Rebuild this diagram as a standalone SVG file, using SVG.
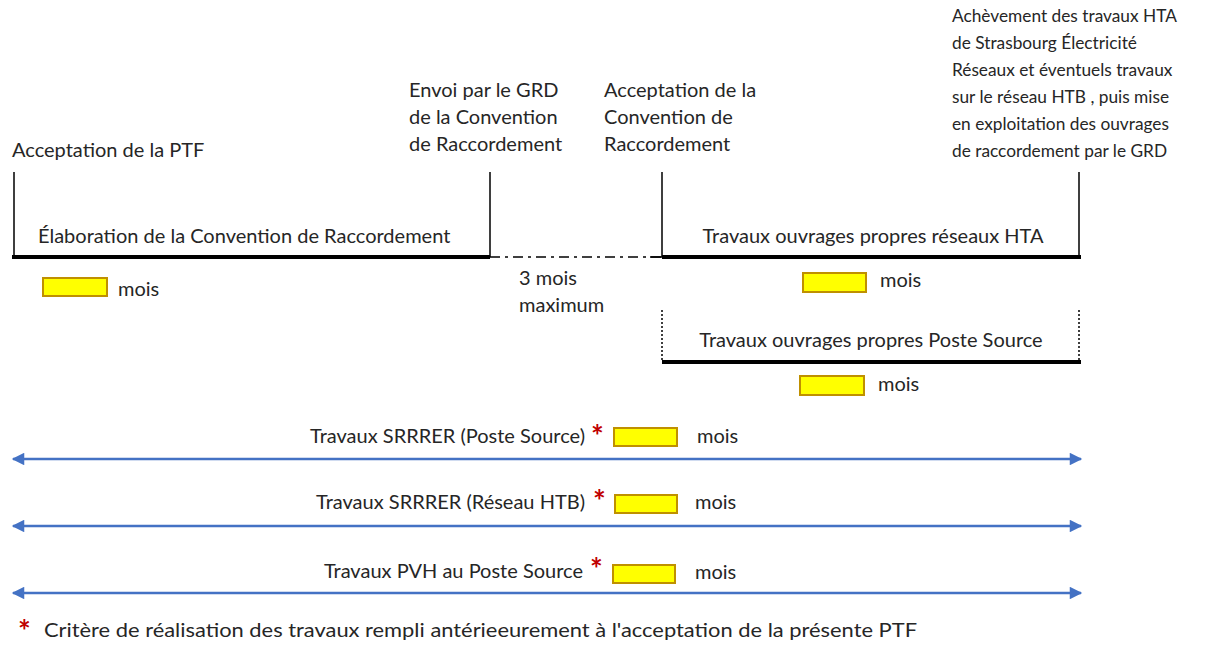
<svg xmlns="http://www.w3.org/2000/svg" width="1222" height="649" viewBox="0 0 1222 649">
<defs>
<marker id="ah" viewBox="0 0 10 10" refX="9" refY="5" markerWidth="5.5" markerHeight="5" orient="auto-start-reverse" markerUnits="strokeWidth">
<path d="M0,0 L10,5 L0,10 z" fill="#4472C4"/>
</marker>
<style>
text{font-family:Lato,"Open Sans",sans-serif;font-size:20px;fill:#262626}
.sm{font-size:17.3px}
.ast{fill:#C00000;font-size:30px;font-weight:bold}
.v{stroke:#000;stroke-width:1.5;fill:none}
.bar{stroke:#000;stroke-width:4;fill:none}
.dot{stroke:#000;stroke-width:1.5;stroke-dasharray:2 2;fill:none}
.dd{stroke:#000;stroke-width:1.5;stroke-dasharray:10 5 3 5;fill:none}
.box{fill:#FFFF00;stroke:#BF9000;stroke-width:2}
.arr{stroke:#4472C4;stroke-width:2.5;fill:none;marker-start:url(#ah);marker-end:url(#ah)}
</style>
</defs>
<g id="labels">
<text x="12" y="157">Acceptation de la PTF</text>
<text x="409" y="97">Envoi par le GRD</text>
<text x="409" y="124">de la Convention</text>
<text x="409" y="151">de Raccordement</text>
<text x="604" y="97">Acceptation de la</text>
<text x="604" y="124">Convention de</text>
<text x="604" y="151">Raccordement</text>
<text class="sm" x="952" y="22">Achèvement des travaux HTA</text>
<text class="sm" x="952" y="49">de Strasbourg Électricité</text>
<text class="sm" x="952" y="76">Réseaux et éventuels travaux</text>
<text class="sm" x="952" y="103">sur le réseau HTB , puis mise</text>
<text class="sm" x="952" y="130">en exploitation des ouvrages</text>
<text class="sm" x="952" y="157">de raccordement par le GRD</text>
</g>
<g id="phase-elaboration">
<path class="v" d="M14,172 V257 M490,172 V257"/>
<path class="bar" d="M12,257 H490"/>
<text x="38" y="243">Élaboration de la Convention de Raccordement</text>
<rect class="box" x="43" y="278" width="64" height="18"/>
<text x="118" y="296">mois</text>
</g>
<g id="phase-delai">
<path class="dd" d="M490,257 H662"/>
<text x="519" y="285">3 mois</text>
<text x="519" y="312">maximum</text>
</g>
<g id="phase-hta">
<path class="v" d="M662,172 V257 M1079,172 V257 M650,257 H662"/>
<path class="bar" d="M662,257 H1081"/>
<text x="873" y="243" text-anchor="middle">Travaux ouvrages propres réseaux HTA</text>
<rect class="box" x="803" y="273" width="63" height="19"/>
<text x="880" y="287">mois</text>
</g>
<g id="phase-poste">
<path class="dot" d="M662,310 V362 M1079,310 V362"/>
<path class="bar" d="M662,362 H1081"/>
<text x="871" y="347" text-anchor="middle">Travaux ouvrages propres Poste Source</text>
<rect class="box" x="800" y="376" width="64" height="19"/>
<text x="878" y="391">mois</text>
</g>
<g id="connectors">
<path class="arr" d="M13,459 H1081"/>
<path class="arr" d="M13,526 H1081"/>
<path class="arr" d="M13,593 H1081"/>
</g>
<g id="srrrer-poste">
<text x="585" y="443" text-anchor="end">Travaux SRRRER (Poste Source)</text>
<text class="ast" x="591" y="447">*</text>
<rect class="box" x="614" y="428" width="63" height="18"/>
<text x="697" y="443">mois</text>
</g>
<g id="srrrer-htb">
<text x="585" y="509" text-anchor="end">Travaux SRRRER (Réseau HTB)</text>
<text class="ast" x="593" y="512">*</text>
<rect class="box" x="615" y="495" width="62" height="18"/>
<text x="695" y="509">mois</text>
</g>
<g id="pvh">
<text x="583" y="578" text-anchor="end">Travaux PVH au Poste Source</text>
<text class="ast" x="590" y="580">*</text>
<rect class="box" x="613" y="565" width="62" height="18"/>
<text x="695" y="579">mois</text>
</g>
<g id="footnote">
<text class="ast" x="18" y="642">*</text>
<text x="44" y="637" textLength="873" lengthAdjust="spacingAndGlyphs">Critère de réalisation des travaux rempli antérieeurement à l'acceptation de la présente PTF</text>
</g>
</svg>
